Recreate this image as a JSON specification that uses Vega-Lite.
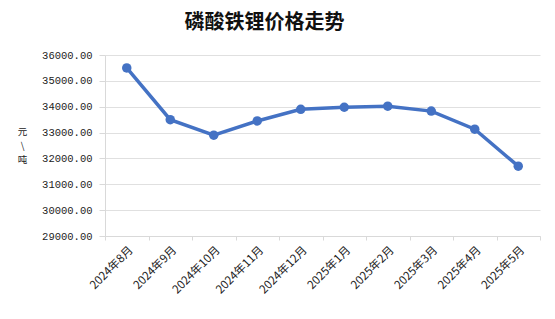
{
  "$schema": "https://vega.github.io/schema/vega-lite/v6.json",
  "autosize": {"type": "none"},
  "width": 435,
  "height": 181,
  "padding": {"left": 105, "top": 55, "right": 15, "bottom": 83},
  "background": "white",
  "title": {
    "text": "磷酸铁锂价格走势",
    "font": "Noto Sans CJK SC",
    "fontSize": 20,
    "fontWeight": "bold",
    "color": "#111111",
    "anchor": "middle",
    "dx": -58,
    "offset": 17
  },
  "data": {
    "values": [
      {"month": "2024年8月", "price": 35500},
      {"month": "2024年9月", "price": 33500},
      {"month": "2024年10月", "price": 32900},
      {"month": "2024年11月", "price": 33450},
      {"month": "2024年12月", "price": 33900},
      {"month": "2025年1月", "price": 33980},
      {"month": "2025年2月", "price": 34020},
      {"month": "2025年3月", "price": 33830},
      {"month": "2025年4月", "price": 33130},
      {"month": "2025年5月", "price": 31700}
    ]
  },
  "encoding": {
    "x": {
      "field": "month",
      "type": "nominal",
      "sort": null,
      "bandPosition": 0.5,
      "scale": {"type": "band", "paddingInner": 0, "paddingOuter": 0},
      "axis": {
        "title": null,
        "labelAngle": -45,
        "labelFont": "Noto Sans CJK SC",
        "labelFontSize": 11.5,
        "labelColor": "#222222",
        "tickBand": "extent",
        "tickSize": 4,
        "tickColor": "#d9d9d9",
        "domainColor": "#d9d9d9",
        "grid": false,
        "labelPadding": 4
      }
    },
    "y": {
      "field": "price",
      "type": "quantitative",
      "scale": {"domain": [29000, 36000], "nice": false, "zero": false},
      "axis": {
        "title": ["元", "\\", "吨"],
        "titleAngle": 0,
        "titleAlign": "center",
        "titleBaseline": "middle",
        "titleX": -83,
        "titleY": 76,
        "titleLineHeight": 14,
        "titleFont": "Noto Sans CJK SC",
        "titleFontSize": 9.5,
        "titleFontWeight": "normal",
        "titleColor": "#222222",
        "values": [29000, 30000, 31000, 32000, 33000, 34000, 35000, 36000],
        "format": ".2f",
        "labelFont": "Liberation Mono",
        "labelFontSize": 10.5,
        "labelColor": "#222222",
        "labelPadding": 7,
        "tickSize": 6,
        "tickColor": "#d9d9d9",
        "domain": true,
        "domainColor": "#d9d9d9",
        "gridColor": "#e0e0e0"
      }
    }
  },
  "layer": [
    {"mark": {"type": "line", "color": "#4472C4", "strokeWidth": 3.5}},
    {"mark": {"type": "point", "filled": true, "color": "#4472C4", "opacity": 1, "size": 90}}
  ],
  "config": {"view": {"stroke": null}}
}
